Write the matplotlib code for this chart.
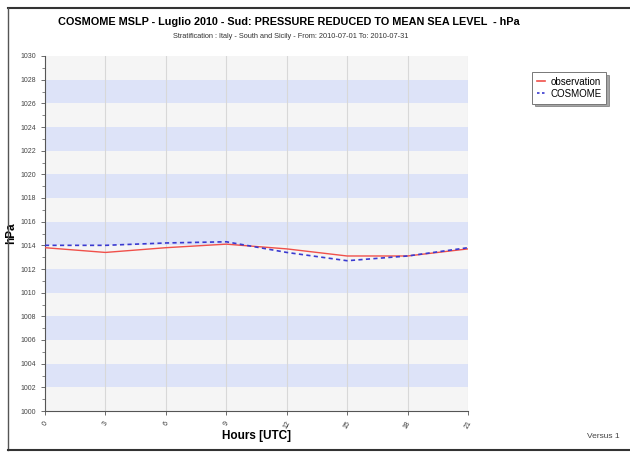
import matplotlib.pyplot as plt
from matplotlib.lines import Line2D
import numpy as np

plt.rcParams['font.family'] = ['Liberation Sans', 'DejaVu Sans']

hours = [0, 3, 6, 9, 12, 15, 18, 21]
observation = [1013.8, 1013.4, 1013.8, 1014.1, 1013.7, 1013.1, 1013.1, 1013.7]
cosmome = [1014.0, 1014.0, 1014.2, 1014.3, 1013.4, 1012.7, 1013.1, 1013.8]
y_ticks = list(range(1000, 1031, 2))

fig = plt.figure(figsize=(6.3, 4.53), dpi=100)
ax = fig.add_axes([45/630, 1-411/453, 423/630, 355/453])
ax.set_facecolor('#f5f5f5')

# alternating bands
for lo in range(1002, 1030, 4):
    ax.axhspan(lo, lo + 2, color='#dde3f8', lw=0, zorder=0)

ax.grid(axis='x', color='#d8d8d8', lw=0.8, zorder=1)
ax.plot(hours, observation, color='#f0504a', lw=1.0, zorder=3, label='observation')
ax.plot(hours, cosmome, color='#3a3ad0', lw=1.2, ls=(0, (2.5, 2)), zorder=3, label='COSMOME')

ax.set_xlim(0, 21)
ax.set_ylim(1000, 1030)
ax.set_xticks(hours)
ax.set_xticklabels([str(h) for h in hours], rotation=60, fontsize=5, color='#333333')
ax.set_yticks(y_ticks)
ax.set_yticks(range(1000, 1031), minor=True)
ax.set_yticklabels([str(v) for v in y_ticks], fontsize=5, color='#444444')
ax.tick_params(axis='both', length=3, width=0.6, color='#555555')
ax.tick_params(axis='y', which='minor', length=2, width=0.5, color='#555555')
for side in ['top', 'right']:
    ax.spines[side].set_visible(False)
for side in ['left', 'bottom']:
    ax.spines[side].set_color('#555555')
    ax.spines[side].set_linewidth(0.8)

ax.set_xlabel('Hours [UTC]', fontsize=8.5, fontweight='bold', labelpad=0)
ax.set_ylabel('hPa', fontsize=8.5, fontweight='bold', labelpad=2)

fig.text(289/630, 1-22/453, 'COSMOME MSLP - Luglio 2010 - Sud: PRESSURE REDUCED TO MEAN SEA LEVEL  - hPa',
         ha='center', va='center', fontsize=7.8, fontweight='bold')
fig.text(291/630, 1-36/453, 'Stratification : Italy - South and Sicily - From: 2010-07-01 To: 2010-07-31',
         ha='center', va='center', fontsize=5.3, color='#333333')
fig.text(620/630, 1-437/453, 'Versus 1', ha='right', va='center', fontsize=6, color='#444444')

handles = [Line2D([], [], color='#f0504a', lw=1.2),
           Line2D([], [], color='#3a3ad0', lw=1.2, ls=(0, (1.5, 1.5)))]
leg = fig.legend(handles, ['observation', 'COSMOME'], loc='upper left',
                 bbox_to_anchor=(527/630, 1-67/453), fontsize=7, handlelength=0.8,
                 fancybox=False, shadow=True, framealpha=1, edgecolor='#777777',
                 borderpad=0.5, labelspacing=0.2, handletextpad=0.6)
leg.get_frame().set_linewidth(0.7)

# outer frame
fig.add_artist(Line2D([8/630, 1], [1-8/453, 1-8/453], color='#333333', lw=1.5))
fig.add_artist(Line2D([8/630, 8/630], [1-8/453, 1-450/453], color='#555555', lw=1.0))
fig.add_artist(Line2D([8/630, 1], [1-450/453, 1-450/453], color='#333333', lw=1.5))

fig.savefig('out.png', dpi=100)
